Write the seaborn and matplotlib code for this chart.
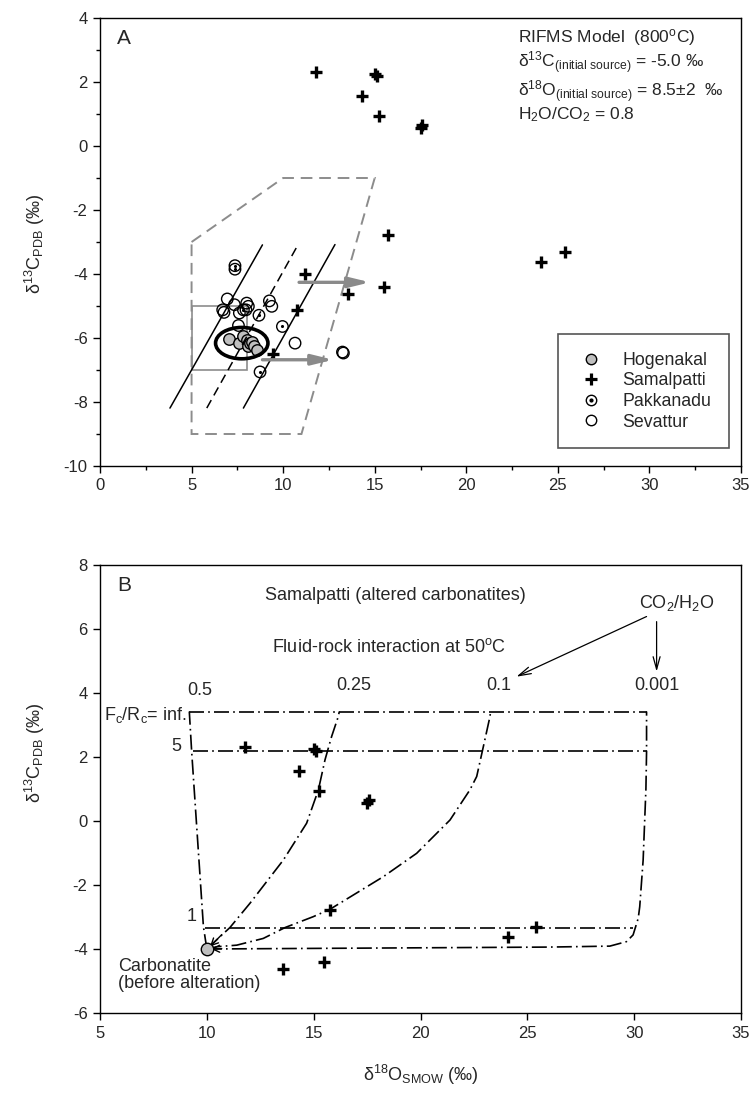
import matplotlib
matplotlib.use("Agg")
import matplotlib.pyplot as plt
from matplotlib.patches import Ellipse, Rectangle, Polygon
from matplotlib.lines import Line2D
from matplotlib.ticker import MultipleLocator
import seaborn as sns

# ---------------- data ----------------
# Samalpatti carbonatites (d18O SMOW, d13C PDB), shown in both panels
sam_d18o = [11.8, 15.0, 15.1, 14.3, 15.25, 17.5, 17.6, 15.75, 24.1, 25.4, 13.55, 15.5]
sam_d13c = [2.3, 2.25, 2.2, 1.57, 0.94, 0.57, 0.65, -2.77, -3.63, -3.3, -4.62, -4.4]
# additional Samalpatti samples (panel A only)
sam_extra_d18o = [11.2, 10.78, 9.47]
sam_extra_d13c = [-3.99, -5.14, -6.49]

hog_d18o = [7.06, 7.61, 7.83, 8.01, 8.1, 8.19, 8.28, 8.41, 8.56]
hog_d13c = [-6.03, -6.16, -5.95, -6.07, -6.26, -6.16, -6.11, -6.24, -6.37]

pak_d18o = [7.37, 7.37, 7.83, 8.68, 9.96, 8.74]
pak_d13c = [-3.74, -3.85, -5.12, -5.29, -5.64, -7.06]

sev_d18o = [6.95, 6.7, 6.77, 7.34, 7.61, 8.01, 8.1, 7.97, 9.25, 9.38, 7.56, 10.65, 13.24, 13.29]
sev_d13c = [-4.78, -5.12, -5.2, -4.96, -5.22, -4.91, -5.01, -5.12, -4.84, -5.01, -5.61, -6.16, -6.44, -6.47]

# RIFMS model trends (800 C)
rifms_a_x, rifms_a_y = [3.82, 8.87], [-8.19, -3.09]
rifms_b_x, rifms_b_y = [5.83, 10.74], [-8.19, -3.16]
rifms_c_x, rifms_c_y = [7.83, 12.83], [-8.19, -3.08]

# field of primary carbonatites
field_x = [5, 10, 15, 11, 5, 5]
field_y = [-3, -1, -1, -9, -9, -3]

# fluid-rock interaction model at 50 C (panel B)
carb_x, carb_y = [10.0], [-4.0]
fr_inf_x, fr_inf_y = [9.18, 30.58], [3.42, 3.42]
fr_5_x, fr_5_y = [9.37, 30.58], [2.19, 2.19]
fr_1_x, fr_1_y = [9.91, 29.95], [-3.33, -3.33]
cw_05_x = [10.0, 9.84, 9.29, 9.18]
cw_05_y = [-4.0, -3.3, 2.17, 3.42]
cw_025_x = [10.0, 11.08, 12.02, 13.58, 14.67, 15.22, 15.53, 15.84, 16.15, 16.2]
cw_025_y = [-4.0, -3.33, -2.57, -1.22, -0.07, 0.97, 1.91, 2.64, 3.26, 3.42]
cw_01_x = [10.0, 10.46, 11.4, 12.64, 13.66, 14.98, 15.76, 18.26, 19.82, 21.38, 22.31, 22.63, 22.94, 23.25, 23.28]
cw_01_y = [-4.0, -3.93, -3.88, -3.67, -3.33, -2.99, -2.76, -1.74, -1.01, 0.03, 0.97, 1.39, 2.32, 3.26, 3.42]
cw_0001_x = [10.0, 18.0, 26.0, 28.86, 29.64, 29.95, 30.19, 30.26, 30.42, 30.55, 30.58, 30.58]
cw_0001_y = [-4.0, -3.97, -3.94, -3.91, -3.77, -3.56, -3.04, -2.68, -1.22, 1.0, 2.17, 3.42]

# ---------------- style ----------------
sns.set_style("ticks")
plt.rcParams["font.family"] = ["Liberation Sans", "DejaVu Sans"]
plt.rcParams["mathtext.fontset"] = "custom"
plt.rcParams["mathtext.rm"] = "Liberation Sans"
plt.rcParams["mathtext.it"] = "Liberation Sans:italic"
plt.rcParams["axes.unicode_minus"] = False
plt.rcParams["axes.edgecolor"] = "black"
plt.rcParams["axes.linewidth"] = 1.0

FS_TICK = 12
FS_A = 12.5
FS_B = 13
fig = plt.figure(figsize=(7.53, 10.94), dpi=100)
axA = fig.add_axes([100 / 753, 1 - 466 / 1094, 641 / 753, 448 / 1094])
axB = fig.add_axes([100 / 753, 1 - 1013 / 1094, 641 / 753, 448 / 1094])

circ = dict(s=68, linewidth=1.0)
plus = dict(marker="+", s=85, linewidth=2.4, color="black")

# ---------------- panel A ----------------
ax = axA
ax.add_patch(Polygon(list(zip(field_x, field_y)), closed=True, fill=False,
                     ec="#8c8c8c", lw=1.4, ls=(0, (6, 3.5))))
ax.add_patch(Rectangle((5, -7), 3.0, 2, fill=False, ec="#8c8c8c", lw=1.2))
sns.lineplot(x=rifms_a_x, y=rifms_a_y, ax=ax, color="black", lw=1.1, sort=False, estimator=None)
sns.lineplot(x=rifms_b_x, y=rifms_b_y, ax=ax, color="black", lw=1.1, sort=False, estimator=None,
             linestyle=(0, (6, 3.5)))
sns.lineplot(x=rifms_c_x, y=rifms_c_y, ax=ax, color="black", lw=1.1, sort=False, estimator=None)

for (x0, x1, yy) in [(10.87, 14.75, -4.26), (8.87, 12.74, -6.68)]:
    ax.annotate("", xy=(x1, yy), xytext=(x0, yy),
                arrowprops=dict(arrowstyle="-|>,head_length=0.9,head_width=0.22",
                                color="#8a8a8a", lw=2.4, mutation_scale=14,
                                shrinkA=0, shrinkB=0))

sns.scatterplot(x=sev_d18o, y=sev_d13c, ax=ax, marker="o", facecolor="none",
                edgecolor="black", **circ)
sns.scatterplot(x=pak_d18o, y=pak_d13c, ax=ax, marker="o", facecolor="none",
                edgecolor="black", **circ)
sns.scatterplot(x=pak_d18o, y=pak_d13c, ax=ax, marker="o", color="black", s=5, linewidth=0)
sns.scatterplot(x=hog_d18o, y=hog_d13c, ax=ax, marker="o", color="#bfbfbf",
                edgecolor="black", **circ)
sns.scatterplot(x=sam_d18o + sam_extra_d18o, y=sam_d13c + sam_extra_d13c, ax=ax, **plus)
ax.add_patch(Ellipse((7.74, -6.16), 2.86, 0.98, fill=False, ec="black", lw=2.6, zorder=5))

ax.set_xlim(0, 35)
ax.set_ylim(-10, 4)
ax.xaxis.set_major_locator(MultipleLocator(5))
ax.xaxis.set_minor_locator(MultipleLocator(2.5))
ax.yaxis.set_major_locator(MultipleLocator(2))
ax.yaxis.set_minor_locator(MultipleLocator(1))
ax.set_ylabel("δ$^{13}$C$_{\\rm PDB}$ (‰)", fontsize=13)
ax.yaxis.set_label_coords(-0.083, 0.4955)
ax.set_xlabel("")

ax.text(0.027, 0.942, "A", transform=ax.transAxes, fontsize=15, va="baseline", ha="left")
tx = 22.81
ax.text(tx, 3.38, "RIFMS Model  (800$^{\\rm o}$C)", fontsize=FS_A, va="center")
ax.text(tx, 2.59, "δ$^{13}$C$_{\\rm (initial\\ source)}$ = -5.0 ‰", fontsize=FS_A, va="center")
ax.text(tx, 1.70, "δ$^{18}$O$_{\\rm (initial\\ source)}$ = 8.5±2  ‰", fontsize=FS_A, va="center")
ax.text(tx, 0.98, "H$_2$O/CO$_2$ = 0.8", fontsize=FS_A, va="center")

handles = [
    Line2D([], [], ls="none", marker="o", ms=7.5, mfc="#bfbfbf", mec="black", mew=1.0),
    Line2D([], [], ls="none", marker="+", ms=8, mec="black", mew=2.3),
    (Line2D([], [], ls="none", marker="o", ms=7.5, mfc="none", mec="black", mew=1.0),
     Line2D([], [], ls="none", marker="o", ms=2, mfc="black", mec="black")),
    Line2D([], [], ls="none", marker="o", ms=7.5, mfc="none", mec="black", mew=1.0),
]
leg = ax.legend(handles, ["Hogenakal", "Samalpatti", "Pakkanadu", "Sevattur"],
                loc="lower right", bbox_to_anchor=(0.981, 0.0395), fontsize=12.8,
                frameon=True, fancybox=False, edgecolor="#555555", framealpha=1,
                borderpad=1.0, labelspacing=0.2, handlelength=1.7, handletextpad=0.9,
                borderaxespad=0)
leg.get_frame().set_linewidth(1.2)

# ---------------- panel B ----------------
ax = axB
dd = (0, (9, 2.5, 1, 2.5))
for xs, ys in [(fr_inf_x, fr_inf_y), (fr_5_x, fr_5_y), (fr_1_x, fr_1_y),
               (cw_05_x, cw_05_y), (cw_025_x, cw_025_y), (cw_01_x, cw_01_y),
               (cw_0001_x, cw_0001_y)]:
    sns.lineplot(x=xs, y=ys, ax=ax, color="black", lw=1.2, sort=False,
                 estimator=None, linestyle=dd)

for start, end in [((10.7, -3.55), (10.15, -3.92)), ((10.7, -3.99), (10.2, -4.0))]:
    ax.annotate("", xy=end, xytext=start,
                arrowprops=dict(arrowstyle="->,head_length=0.5,head_width=0.25",
                                color="black", lw=1.0, shrinkA=0, shrinkB=0))

sns.scatterplot(x=sam_d18o, y=sam_d13c, ax=ax, **plus)
sns.scatterplot(x=carb_x, y=carb_y, ax=ax, marker="o", color="#bfbfbf",
                edgecolor="black", s=80, linewidth=1.0, zorder=6)

ax.set_xlim(5, 35)
ax.set_ylim(-6, 8)
ax.xaxis.set_major_locator(MultipleLocator(5))
ax.yaxis.set_major_locator(MultipleLocator(2))
ax.set_ylabel("δ$^{13}$C$_{\\rm PDB}$ (‰)", fontsize=13)
ax.yaxis.set_label_coords(-0.083, 0.58)
ax.set_xlabel("δ$^{18}$O$_{\\rm SMOW}$ (‰)", fontsize=13, labelpad=16)

ax.text(0.027, 0.942, "B", transform=ax.transAxes, fontsize=15, va="baseline", ha="left")
ax.text(18.84, 7.06, "Samalpatti (altered carbonatites)", fontsize=FS_B, ha="center", va="center")
ax.text(18.52, 5.43, "Fluid-rock interaction at 50$^{\\rm o}$C", fontsize=FS_B, ha="center", va="center")
ax.text(31.98, 6.8, "CO$_2$/H$_2$O", fontsize=FS_B, ha="center", va="center")
for lab, lx, ly in zip(["0.5", "0.25", "0.1", "0.001"], [9.65, 16.89, 23.64, 31.05],
                       [4.09, 4.22, 4.25, 4.25]):
    ax.text(lx, ly, lab, fontsize=FS_B, ha="center", va="center")
ax.text(9.06, 3.31, "F$_{\\rm c}$/R$_{\\rm c}$= inf.", fontsize=FS_B, ha="right", va="center")
ax.text(8.59, 2.32, "5", fontsize=FS_B, ha="center", va="center")
ax.text(9.29, -2.99, "1", fontsize=FS_B, ha="center", va="center")
ax.text(5.86, -4.27, "Carbonatite\n(before alteration)", fontsize=FS_B, ha="left", va="top",
        linespacing=1.05)
for start, end in [((30.58, 6.39), (24.49, 4.51)), ((31.05, 6.23), (31.05, 4.67))]:
    ax.annotate("", xy=end, xytext=start,
                arrowprops=dict(arrowstyle="->,head_length=0.9,head_width=0.25",
                                color="black", lw=0.9, shrinkA=0, shrinkB=0))

for a in (axA, axB):
    a.tick_params(axis="both", which="major", direction="out", length=5, width=1,
                  labelsize=FS_TICK, pad=4, color="black")
    a.tick_params(axis="both", which="minor", direction="out", length=3, width=1, color="black")
    for sp in a.spines.values():
        sp.set_visible(True)
        sp.set_color("black")

fig.savefig("out.png", dpi=100)
